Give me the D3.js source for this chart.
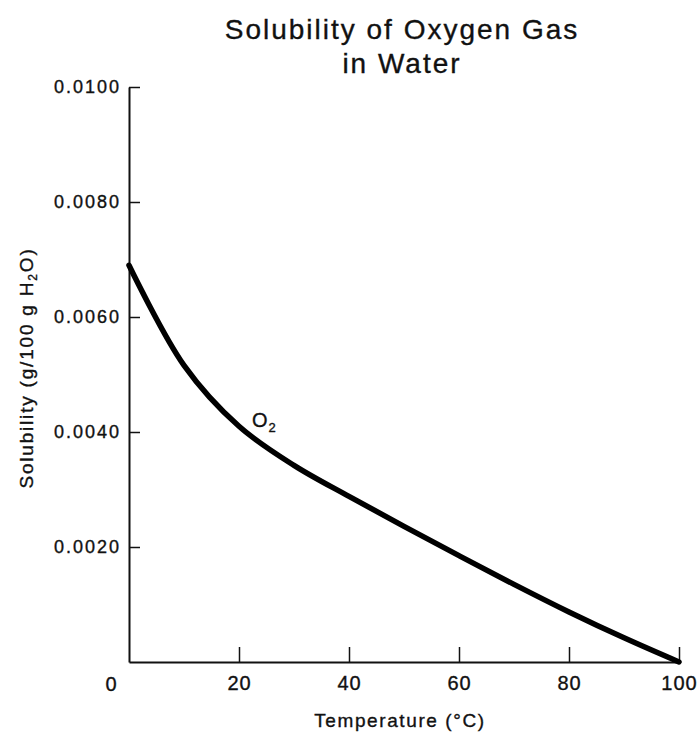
<!DOCTYPE html>
<html>
<head>
<meta charset="utf-8">
<script src="https://cdn.jsdelivr.net/npm/d3@7"></script>
<style>
  body { margin: 0; background: #fff; }
  text { font-family: "Liberation Sans", Arial, sans-serif; fill: #111; stroke: #111; stroke-width: 0.35px; }
</style>
</head>
<body>
<div id="chart"></div>
<script>
// solubility of O2
var temps = [0, 10, 20, 30, 40, 50, 60, 70, 80, 90, 100];
var solubility = [0.00690, 0.00516, 0.00410, 0.00342, 0.00288, 0.00236, 0.00185, 0.00135, 0.00087, 0.00042, 0.00000];
var xTicks = [20, 40, 60, 80, 100];
var yTicks = [0.002, 0.004, 0.006, 0.008, 0.010];
var titleLines = ["Solubility of Oxygen Gas", "in Water"];

var width = 698, height = 732;

var svg = d3.select("#chart")
  .append("svg")
  .attr("width", width)
  .attr("height", height);

var x = d3.scaleLinear().domain([0, 100]).range([129, 679]);
var y = d3.scaleLinear().domain([0, 0.01]).range([662, 87]);

// title
svg.append("text")
  .attr("text-anchor", "middle")
  .attr("font-size", "28px")
  .attr("letter-spacing", "2px")
  .selectAll("tspan")
  .data(titleLines)
  .enter()
  .append("tspan")
  .attr("x", 402)
  .attr("y", function(d, i) { return 39 + i * 34; })
  .text(function(d) { return d; });

// x axis, ticks point up into the plot
var xAxis = svg.append("g")
  .attr("transform", "translate(0," + y(0) + ")")
  .call(d3.axisBottom(x).tickValues(xTicks).tickSize(-15).tickSizeOuter(0)
    .tickPadding(14).tickFormat(d3.format("d")));

// y axis, ticks point right
var yAxis = svg.append("g")
  .attr("transform", "translate(" + x(0) + ",0)")
  .call(d3.axisLeft(y).tickValues(yTicks).tickSize(-11).tickSizeOuter(0)
    .tickPadding(8).tickFormat(d3.format(".4f")));

[xAxis, yAxis].forEach(function(g) {
  g.select(".domain").attr("stroke", "#111").attr("stroke-width", 2);
  g.selectAll(".tick line").attr("stroke", "#111").attr("stroke-width", 1.5);
  g.selectAll(".tick text")
    .attr("font-family", "Liberation Sans, Arial, sans-serif")
    .attr("fill", "#111");
});
xAxis.selectAll(".tick text").attr("font-size", "20px").attr("letter-spacing", "1px");
yAxis.selectAll(".tick text").attr("font-size", "18px").attr("letter-spacing", "2px");

// shared origin label
svg.append("text")
  .attr("x", x(0) - 18)
  .attr("y", y(0) + 29)
  .attr("text-anchor", "middle")
  .attr("font-size", "20px")
  .text("0");

// axis titles
svg.append("text")
  .attr("x", 400)
  .attr("y", 727)
  .attr("text-anchor", "middle")
  .attr("font-size", "19px")
  .attr("letter-spacing", "1.6px")
  .text("Temperature (°C)");

var yLabel = svg.append("text")
  .attr("transform", "translate(33,368) rotate(-90)")
  .attr("text-anchor", "middle")
  .attr("font-size", "19px")
  .attr("letter-spacing", "1.8px");
yLabel.append("tspan").text("Solubility (g/100 g H");
yLabel.append("tspan").attr("font-size", "12px").attr("dy", 4).text("2");
yLabel.append("tspan").attr("dy", -4).text("O)");

// curve
var line = d3.line()
  .x(function(d, i) { return x(temps[i]); })
  .y(function(d) { return y(d); })
  .curve(d3.curveCatmullRom.alpha(0.5));

svg.append("path")
  .datum(solubility)
  .attr("d", line)
  .attr("fill", "none")
  .attr("stroke", "#000")
  .attr("stroke-width", 5.5)
  .attr("stroke-linecap", "round");

// curve label
var o2 = svg.append("text")
  .attr("x", 252)
  .attr("y", 427)
  .attr("font-size", "20px");
o2.append("tspan").text("O");
o2.append("tspan").attr("font-size", "13px").attr("dy", 5).attr("dx", 1).text("2");
</script>
</body>
</html>
